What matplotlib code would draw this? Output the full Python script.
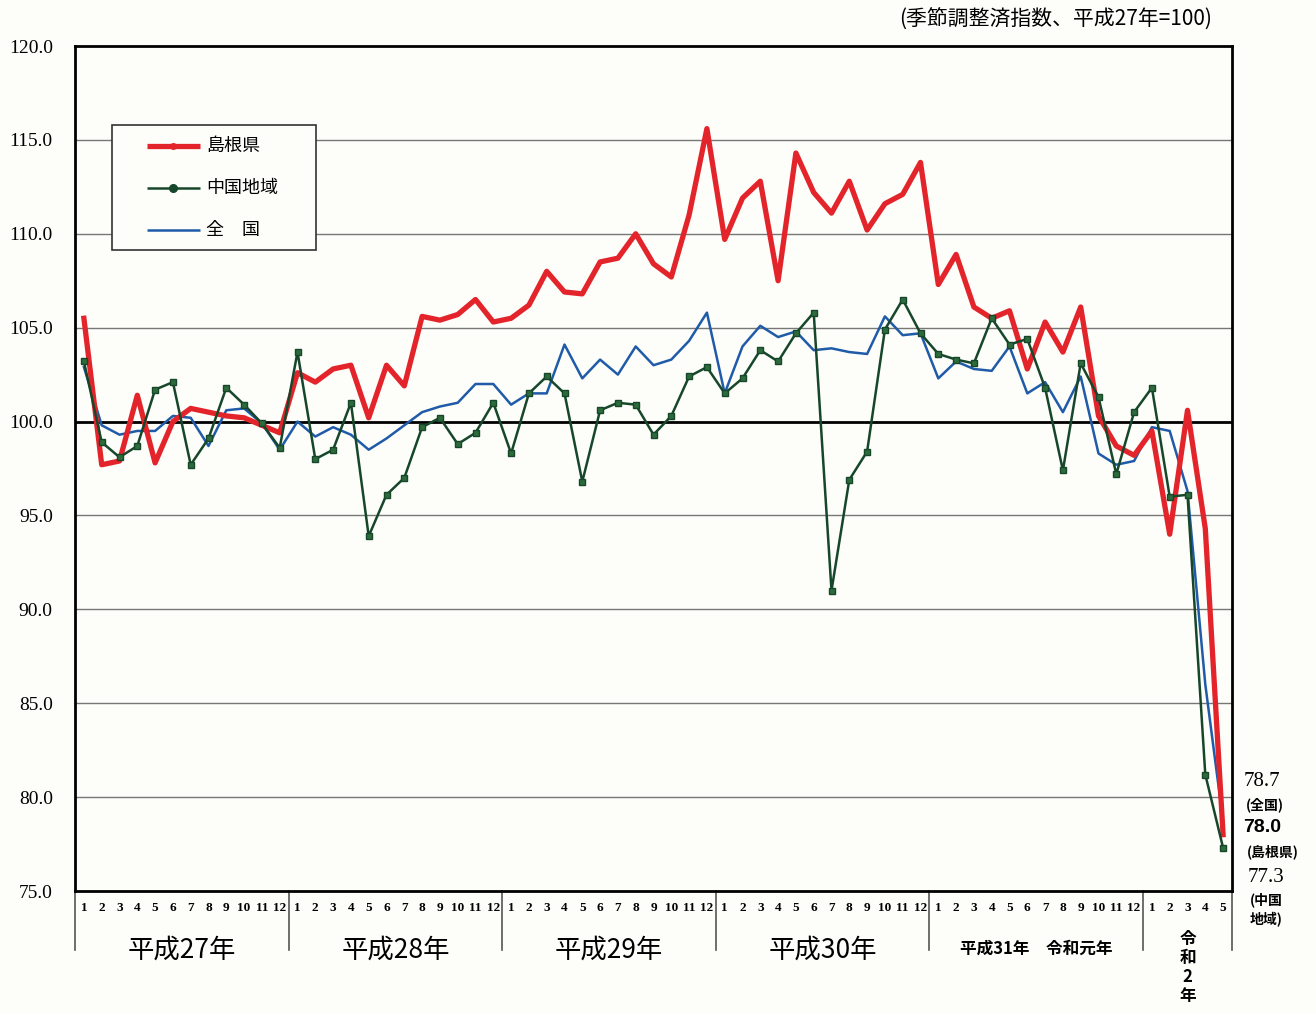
import matplotlib
matplotlib.use("Agg")
import matplotlib.pyplot as plt
from matplotlib.patches import Rectangle

plt.rcParams['font.family'] = ['Noto Sans CJK JP', 'DejaVu Sans']

# 平成27年1月 ～ 令和2年5月 (65か月)
months = [1, 2, 3, 4, 5, 6, 7, 8, 9, 10, 11, 12] * 5 + [1, 2, 3, 4, 5]
year_labels = ["平成27年", "平成28年", "平成29年", "平成30年"]

shimane = [105.5, 97.7, 97.9, 101.4, 97.8, 100.0, 100.7, 100.5, 100.3, 100.2, 99.8, 99.4,
           102.6, 102.1, 102.8, 103.0, 100.2, 103.0, 101.9, 105.6, 105.4, 105.7, 106.5, 105.3,
           105.5, 106.2, 108.0, 106.9, 106.8, 108.5, 108.7, 110.0, 108.4, 107.7, 111.0, 115.6,
           109.7, 111.9, 112.8, 107.5, 114.3, 112.2, 111.1, 112.8, 110.2, 111.6, 112.1, 113.8,
           107.3, 108.9, 106.1, 105.5, 105.9, 102.8, 105.3, 103.7, 106.1, 100.3, 98.7, 98.2,
           99.5, 94.0, 100.6, 94.3, 78.0]
chugoku = [103.2, 98.9, 98.1, 98.7, 101.7, 102.1, 97.7, 99.1, 101.8, 100.9, 99.9, 98.6,
           103.7, 98.0, 98.5, 101.0, 93.9, 96.1, 97.0, 99.7, 100.2, 98.8, 99.4, 101.0,
           98.3, 101.5, 102.4, 101.5, 96.8, 100.6, 101.0, 100.9, 99.3, 100.3, 102.4, 102.9,
           101.5, 102.3, 103.8, 103.2, 104.7, 105.8, 91.0, 96.9, 98.4, 104.9, 106.5, 104.7,
           103.6, 103.3, 103.1, 105.5, 104.1, 104.4, 101.8, 97.4, 103.1, 101.3, 97.2, 100.5,
           101.8, 96.0, 96.1, 81.2, 77.3]
zenkoku = [102.9, 99.8, 99.3, 99.5, 99.5, 100.3, 100.2, 98.7, 100.6, 100.7, 99.9, 98.5,
           100.0, 99.2, 99.7, 99.3, 98.5, 99.1, 99.8, 100.5, 100.8, 101.0, 102.0, 102.0,
           100.9, 101.5, 101.5, 104.1, 102.3, 103.3, 102.5, 104.0, 103.0, 103.3, 104.3, 105.8,
           101.5, 104.0, 105.1, 104.5, 104.8, 103.8, 103.9, 103.7, 103.6, 105.6, 104.6, 104.7,
           102.3, 103.2, 102.8, 102.7, 104.0, 101.5, 102.1, 100.5, 102.4, 98.3, 97.7, 97.9,
           99.7, 99.5, 96.3, 86.0, 78.7]

x = list(range(len(months)))

W, H = 1316, 1013
L, R, T, B = 75, 1232, 46, 891
fig = plt.figure(figsize=(W / 100, H / 100), dpi=100, facecolor="#fdfdf9")
ax = fig.add_axes([L / W, 1 - B / H, (R - L) / W, (B - T) / H])
ax.set_facecolor("#fdfdf9")


def axpos(px, py):
    # 画像ピクセル -> 軸座標
    return (px - L) / (R - L), (B - py) / (B - T)


# 目盛線
for v in range(80, 120, 5):
    if v == 100:
        ax.axhline(v, color="black", lw=2.0, zorder=1)
    else:
        ax.axhline(v, color="#777777", lw=1.0, zorder=1)

red = "#e3242b"
green = "#17472a"
blue = "#1f5ba8"
ax.plot(x, zenkoku, color=blue, lw=1.8, zorder=3)
ax.plot(x, shimane, color=red, lw=3.8, zorder=4)
ax.plot(x, chugoku, color=green, lw=1.8, marker="s", markersize=4.5,
        markerfacecolor="#2e6b3c", markeredgecolor=green, zorder=5)

ax.set_xlim(-0.5, len(months) - 0.5)
ax.set_ylim(75, 120)
ax.set_yticks(range(75, 121, 5))
ax.set_yticklabels([f"{v:.1f}" for v in range(75, 121, 5)],
                   fontfamily="Liberation Serif", fontsize=14)
ax.set_xticks(x)
ax.set_xticklabels([str(m) for m in months], fontfamily="Liberation Serif",
                   fontsize=9.5, fontweight="bold")
ax.tick_params(axis="x", length=0, pad=8)
ax.tick_params(axis="y", length=0, pad=16)
for s in ax.spines.values():
    s.set_linewidth(2.0)

# 年の区切り線
tr = ax.get_xaxis_transform()
for b in [-0.5, 11.5, 23.5, 35.5, 47.5, 59.5, 64.5]:
    ax.plot([b, b], [0, -0.07], color="#555555", lw=1.2, transform=tr, clip_on=False)

for k, lab in enumerate(year_labels):
    ax.text(12 * k + 5.5, -0.07, lab, transform=tr, ha="center", va="center", fontsize=19)
ax.text(53.5, -0.068, "平成31年　令和元年", transform=tr, ha="center", va="center",
        fontsize=12, fontweight="bold")
ax.text(62, -0.046, "令\n和\n2\n年", transform=tr, ha="center", va="top",
        fontsize=12, linespacing=1.08, fontweight="bold")

# 凡例 (手描き)
x0, y0 = axpos(112, 250)
x1, y1 = axpos(316, 125)
ax.add_patch(Rectangle((x0, y0), x1 - x0, y1 - y0, transform=ax.transAxes,
                       facecolor="#fdfdf9", edgecolor="#333333", lw=1.2, zorder=6))
legend_items = [("島根県", red, 3.8, 146), ("中国地域", green, 1.8, 188), ("全　国", blue, 1.8, 230)]
for lab, col, lw, py in legend_items:
    ha, va = axpos(147, py)
    hb, _ = axpos(200, py)
    hm, _ = axpos(173, py)
    ax.plot([ha, hb], [va, va], color=col, lw=lw, transform=ax.transAxes, zorder=7,
            solid_capstyle="butt")
    if col != blue:
        ax.plot([hm], [va], color=col, marker="o", markersize=4 if col == red else 5.5,
                transform=ax.transAxes, zorder=8)
    tx, _ = axpos(206, py)
    ax.text(tx, va, lab, transform=ax.transAxes, fontsize=13, ha="left", va="center",
            zorder=8)

# 最新値
fig.text(1262 / W, 1 - 782 / H, "78.7", fontsize=15, fontfamily="Liberation Serif",
         ha="center", va="center")
fig.text(1265 / W, 1 - 805 / H, "(全国)", fontsize=10, fontweight="bold", ha="center", va="center")
fig.text(1262 / W, 1 - 828 / H, "78.0", fontsize=14, fontweight="bold",
         fontfamily=["Liberation Sans", "DejaVu Sans"], ha="center", va="center")
fig.text(1273 / W, 1 - 852 / H, "(島根県)", fontsize=10, fontweight="bold", ha="center", va="center")
fig.text(1266 / W, 1 - 877 / H, "77.3", fontsize=15, fontfamily="Liberation Serif",
         ha="center", va="center")
fig.text(1266 / W, 1 - 900 / H, "(中国", fontsize=10, fontweight="bold", ha="center", va="center")
fig.text(1266 / W, 1 - 920 / H, "地域)", fontsize=10, fontweight="bold", ha="center", va="center")

fig.text(1212 / W, 1 - 20 / H, "(季節調整済指数、平成27年=100)", fontsize=15,
         ha="right", va="center")

fig.savefig("out.png", dpi=100, facecolor=fig.get_facecolor())
